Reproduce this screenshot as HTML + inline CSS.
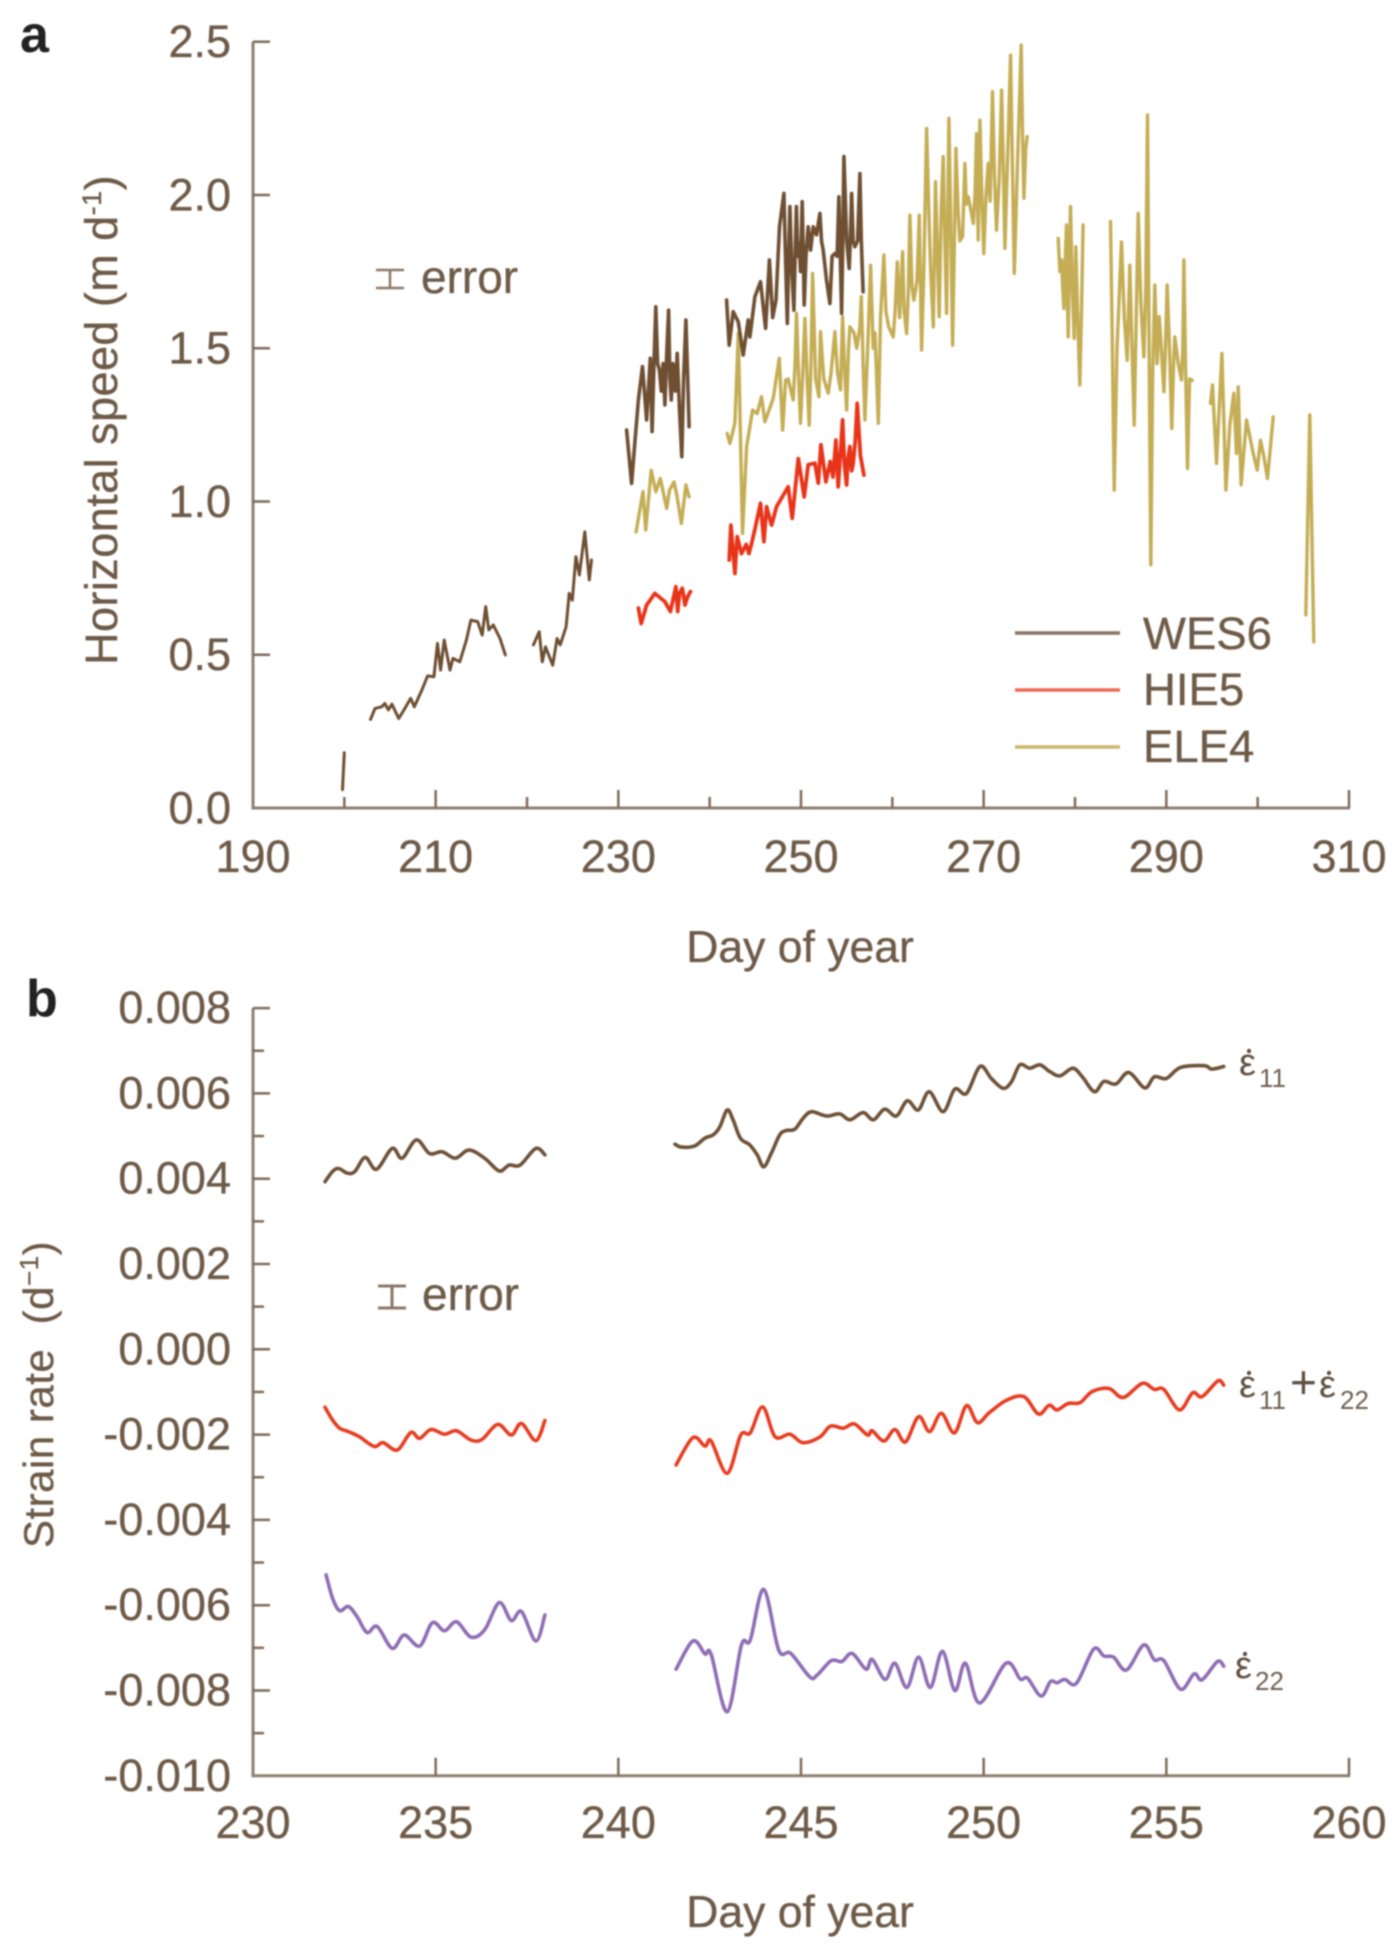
<!DOCTYPE html>
<html lang="en">
<head>
<meta charset="utf-8">
<title>Horizontal speed and strain rate by day of year</title>
<style>
  html,body{margin:0;padding:0;background:#fff;width:1400px;height:1944px;overflow:hidden}
  svg{display:block;filter:blur(.7px)}
  text{font-family:"Liberation Sans",sans-serif;fill:#6d5a47;stroke:#6d5a47;stroke-width:.35px}
  .tick-label{font-size:45px}
  .axis-title{font-size:44.5px}
  .legend-label{font-size:45.5px}
  .err-label{font-size:46px}
  .panel-letter{font-size:52px;font-weight:bold;fill:#222;stroke:none}
  .eps{font-size:38px;fill:#5f4f40;stroke:none}
  .sub{font-size:26px;fill:#6d5f50;stroke:none}
</style>
</head>
<body>
<svg id="chart" xmlns="http://www.w3.org/2000/svg" width="1400" height="1944" viewBox="0 0 1400 1944">
  <rect x="0" y="0" width="1400" height="1944" fill="#fff"/>

  <text class="panel-letter" x="20" y="52">a</text>
  <text class="panel-letter" x="26" y="1016">b</text>

  <g id="panelA"></g>
  <g id="panelB"></g>

  <text class="axis-title" x="800" y="962" text-anchor="middle">Day of year</text>
  <text class="axis-title" x="800" y="1927" text-anchor="middle">Day of year</text>
  <text transform="translate(117 665) rotate(-90)" style="font-size:45px;letter-spacing:.45px">Horizontal speed (m d<tspan dy="-16" style="font-size:27px">-1</tspan><tspan dy="16">)</tspan></text>
  <text transform="translate(53 1548) rotate(-90)" style="font-size:42px;letter-spacing:.5px" xml:space="preserve">Strain rate  (d<tspan dy="-15" style="font-size:26px">−1</tspan><tspan dy="15">)</tspan></text>

  <g stroke="#8a7866" stroke-width="2.5" fill="none">
    <path d="M376 270H404M376 288H404M390 270V288"/>
  </g>
  <text class="err-label" x="421" y="293">error</text>
  <g stroke="#8a7866" stroke-width="3" fill="none">
    <path d="M378 1286H406M378 1308H406M392 1286V1308"/>
  </g>
  <text class="err-label" x="422" y="1310">error</text>

  <g>
    <line x1="1015" x2="1120" y1="633" y2="633" stroke="#8a7565" stroke-width="3.5"/>
    <text class="legend-label" x="1143" y="649">WES6</text>
    <line x1="1015" x2="1120" y1="690" y2="690" stroke="#ee6a55" stroke-width="3.5"/>
    <text class="legend-label" x="1143" y="705">HIE5</text>
    <line x1="1015" x2="1120" y1="747" y2="747" stroke="#c9b86e" stroke-width="3.5"/>
    <text class="legend-label" x="1143" y="762">ELE4</text>
  </g>

  <g>
    <text class="eps" x="1239" y="1075">ε</text>
    <circle cx="1249" cy="1051" r="2.2" fill="#5f4f40"/>
    <text class="sub" x="1259" y="1087">11</text>
  </g>
  <g>
    <text class="eps" x="1239" y="1397">ε</text>
    <circle cx="1249" cy="1373" r="2.2" fill="#5f4f40"/>
    <text class="sub" x="1259" y="1409">11</text>
    <text class="eps" style="font-size:46px" x="1290" y="1398">+</text>
    <text class="eps" x="1319" y="1397">ε</text>
    <circle cx="1329" cy="1373" r="2.2" fill="#5f4f40"/>
    <text class="sub" x="1340" y="1409">22</text>
  </g>
  <g>
    <text class="eps" x="1235" y="1678">ε</text>
    <circle cx="1245" cy="1654" r="2.2" fill="#5f4f40"/>
    <text class="sub" x="1255" y="1690">22</text>
  </g>
</svg>

<script>
// ---------- Panel a: axis values ----------
const speedXMajor = [190,210,230,250,270,290,310];
const speedXMinor = [200,220,240,260,280,300];
const speedYTicks = [0,0.5,1,1.5,2,2.5];
const speedYLabels = ["0.0","0.5","1.0","1.5","2.0","2.5"];

// ---------- Panel a: WES6 ----------
const wes1Days = [199.8,200.0];
const wes1Speed = [0.06,0.18];
const wes2Days = [202.87,203.36,204.09,204.43,204.82,205.21,205.95,206.53,207.27,207.66,208.49,209.12,209.81,210.2,210.54,210.93,211.57,211.9,212.64,213.37,213.86,214.6,215.09,215.48,215.82,216.31,217.04,217.63];
const wes2Speed = [0.289,0.325,0.33,0.341,0.32,0.339,0.292,0.32,0.358,0.33,0.385,0.431,0.428,0.537,0.45,0.548,0.45,0.488,0.477,0.548,0.613,0.608,0.564,0.657,0.581,0.597,0.553,0.499];
const wes3Days = [220.7,221.34,221.68,222.03,222.81,223.3,223.64,224.28,224.62,224.96,225.35,225.74,226.33,226.82,227.06];
const wes3Speed = [0.532,0.575,0.477,0.526,0.466,0.553,0.532,0.591,0.7,0.678,0.82,0.76,0.901,0.744,0.809];
const wes4Days = [230.9,231.45,231.8,232.2,232.65,233.1,233.5,233.7,233.9,234.1,234.3,234.5,234.7,234.9,235.1,235.3,235.5,235.65,235.8,235.95,236.1,236.25,236.45,236.7,236.95,237.15,237.4,237.6,237.75];
const wes4Speed = [1.233,1.059,1.19,1.331,1.44,1.266,1.467,1.228,1.45,1.635,1.45,1.429,1.36,1.45,1.315,1.48,1.624,1.4,1.331,1.45,1.44,1.36,1.483,1.3,1.146,1.4,1.592,1.4,1.244];
const wes5Days = [241.85,242.14,242.58,243.13,243.67,244.22,244.4,244.95,245.57,246.12,246.54,246.9,247.26,247.65,248.13,248.3,248.5,248.65,248.78,249,249.22,249.35,249.5,249.65,249.8,249.95,250.13,250.25,250.35,250.55,250.79,251.05,251.34,251.7,252.07,252.25,252.43,252.8,253.16,253.4,253.71,253.95,254.15,254.3,254.44,254.58,254.7,255,255.28,255.4,255.54,255.7,255.9,256.2,256.45,256.6,256.8];
const wes5Speed = [1.657,1.51,1.619,1.586,1.478,1.592,1.537,1.668,1.717,1.565,1.788,1.6,1.657,1.896,2.005,1.8,1.581,1.8,1.962,1.75,1.624,1.8,1.962,1.8,1.842,1.75,1.978,1.8,1.641,1.8,1.896,1.82,1.896,1.87,1.94,1.85,1.82,1.72,1.646,1.8,1.809,1.8,1.994,1.8,1.614,1.85,2.125,1.85,1.76,1.85,2.005,1.85,1.831,1.85,2.07,1.85,1.684];

// ---------- Panel a: HIE5 ----------
const hie1Days = [232.2,232.5,233.1,234,235.1,235.7,236.3,236.5,236.7,237,237.3,237.6,237.9];
const hie1Speed = [0.652,0.602,0.662,0.7,0.673,0.641,0.722,0.641,0.7,0.717,0.662,0.69,0.706];
const hie2Days = [242.14,242.32,242.76,243.02,243.49,244,244.3,244.59,245.02,245.57,245.94,246.23,246.78,247.32,248.6,249.04,249.7,250.35,250.79,251.52,251.89,252.18,252.73,253.2,253.5,253.82,254.07,254.3,254.55,254.75,254.99,255.15,255.35,255.55,255.72,255.95,256.15,256.5,256.89];
const hie2Speed = [0.809,0.923,0.765,0.885,0.83,0.86,0.83,0.863,0.918,0.994,0.869,0.983,0.923,0.983,1.048,0.945,1.14,1.015,1.12,1.125,1.06,1.185,1.064,1.13,1.08,1.2,1.048,1.15,1.266,1.12,1.054,1.14,1.179,1.1,1.124,1.2,1.32,1.15,1.086];

// ---------- Panel a: ELE4 ----------
const ele1Days = [231.95,232.7,233,233.6,234.1,234.6,235.3,235.6,236.1,236.4,236.9,237.4,237.75];
const ele1Speed = [0.901,1.032,0.907,1.102,1.032,1.075,0.977,1.037,1.064,1.021,0.928,1.054,1.015];
const ele2Days = [241.92,242.21,242.76,243.13,243.6,244.04,244.7,245.2,245.68,246.05,246.96,247.62,247.98,248.31,248.6,248.9,249.15,249.35,249.51,249.75,249.95,250.2,250.43,250.7,250.9,251.1,251.27,251.6,251.96,252.14,252.5,252.98,253.3,253.71,254,254.33,254.55,254.75,254.99,255.2,255.35,255.8,256.1,256.45,256.6,256.8,257,257.3,257.62,257.9,258.1,258.46,258.7,259.08,259.3,259.6,260.1,260.3,260.54,260.8,261.12,261.3,261.56,261.75,261.92,262.15,262.36,262.7,262.95,263.2,263.45,263.75,264,264.2,264.48,264.73,264.95,265.13,265.35,265.57,265.75,265.94,266.19,266.4,266.6,266.8,266.96,267.2,267.4,267.69,267.95,268.1,268.31,268.6,268.86,269.05,269.22,269.4,269.59,269.8,270.02,270.25,270.5,270.7,270.97,271.2,271.41,271.7,271.96,272.15,272.33,272.6,272.95,273.15,273.35,273.7,274.11,274.25,274.4,274.6,274.77];
const ele2Speed = [1.222,1.189,1.255,1.548,0.896,1.179,1.298,1.287,1.342,1.26,1.336,1.467,1.233,1.396,1.4,1.36,1.331,1.45,1.614,1.4,1.255,1.42,1.597,1.38,1.249,1.45,1.744,1.4,1.342,1.554,1.4,1.353,1.42,1.554,1.42,1.364,1.603,1.45,1.298,1.5,1.57,1.55,1.5,1.57,1.668,1.45,1.266,1.5,1.771,1.5,1.55,1.255,1.6,1.804,1.62,1.57,1.537,1.62,1.782,1.6,1.815,1.62,1.548,1.68,1.934,1.7,1.657,1.72,1.934,1.494,1.75,2.217,1.94,1.75,1.57,2.043,1.8,1.603,1.95,2.125,1.85,1.614,2.25,1.9,1.51,1.85,2.152,1.95,1.85,1.864,2.103,1.97,1.994,1.95,1.907,2,2.2,1.853,2.244,2,1.809,2,2.103,1.98,2.337,2.05,1.885,2.05,2.342,2.1,1.826,2.1,2.456,2.1,1.744,2.1,2.489,2.2,1.989,2.15,2.19];
const ele3Days = [278.16,278.35,278.53,278.65,278.78,278.95,279.07,279.15,279.25,279.4,279.51,279.7,279.91,280,280.09,280.3,280.53,280.7,280.89];
const ele3Speed = [1.858,1.75,1.788,1.7,1.63,1.8,1.902,1.7,1.537,1.8,1.962,1.7,1.532,1.7,1.831,1.6,1.38,1.6,1.902];
const ele4Days = [283.89,284.1,284.29,284.6,285.09,285.4,285.71,285.85,286,286.2,286.48,286.7,286.92,287.2,287.54,287.75,287.94,288.1,288.3,288.5,288.74,288.99,289.22,289.45,289.73,289.9,290.09,290.35,290.6,290.8,290.93,291.3,291.66,291.8,291.92,292.1,292.32,292.55,292.83];
const ele4Speed = [1.913,1.5,1.037,1.5,1.847,1.6,1.461,1.6,1.771,1.55,1.249,1.6,1.94,1.65,1.472,1.7,2.261,1.55,0.793,1.4,1.706,1.45,1.603,1.5,1.358,1.5,1.706,1.5,1.238,1.45,1.537,1.45,1.396,1.5,1.788,1.45,1.108,1.4,1.395];
const ele5Days = [294.84,295.06,295.49,296.08,296.52,296.95,297.39,297.68,297.87,298.19,298.78,299.51,299.95,300.31,300.68,301.08,301.7];
const ele5Speed = [1.32,1.38,1.124,1.483,1.037,1.249,1.353,1.157,1.374,1.054,1.266,1.157,1.102,1.2,1.146,1.075,1.276];
const ele6Days = [305.27,305.71,306.15];
const ele6Speed = [0.63,1.282,0.542];

// ---------- Panel b: axis values ----------
const strainXTicks = [230,235,240,245,250,255,260];
const strainYMajor = [0.008,0.006,0.004,0.002,0,-0.002,-0.004,-0.006,-0.008,-0.01];
const strainYLabels = ["0.008","0.006","0.004","0.002","0.000","-0.002","-0.004","-0.006","-0.008","-0.010"];
const strainYMinor = [0.007,0.005,0.003,0.001,-0.001,-0.003,-0.005,-0.007,-0.009];

// ---------- Panel b: strain series (units of 0.001 per day) ----------
const e11aDays = [231.97,232.18,232.34,232.59,232.79,233.07,233.38,233.81,234.08,234.47,234.83,235.18,235.54,235.91,236.34,236.74,237.01,237.31,237.74,237.99];
const e11aRate = [3.93,4.17,4.24,4.13,4.17,4.5,4.22,4.71,4.48,4.91,4.59,4.63,4.48,4.67,4.48,4.18,4.32,4.32,4.71,4.56];
const e11bDays = [241.55,241.73,242.09,242.37,242.6,242.78,242.98,243.14,243.34,243.6,243.8,243.98,244.19,244.42,244.6,244.83,245.06,245.29,245.7,246.06,246.34,246.7,246.98,247.29,247.61,247.91,248.21,248.51,248.89,249.21,249.53,249.9,250.21,250.53,250.76,250.99,251.26,251.54,251.81,252.09,252.44,252.7,253.03,253.29,253.62,253.97,254.41,254.67,255,255.39,256.04,256.24,256.57];
const e11bRate = [4.81,4.74,4.77,4.95,5.03,5.22,5.61,5.38,4.95,4.79,4.56,4.28,4.6,5.03,5.13,5.16,5.42,5.57,5.47,5.52,5.38,5.55,5.38,5.63,5.47,5.83,5.61,6.04,5.57,6.1,6,6.63,6.35,6.12,6.27,6.67,6.59,6.67,6.51,6.41,6.59,6.39,6.04,6.28,6.22,6.49,6.13,6.39,6.35,6.61,6.65,6.57,6.63];
const sumaDays = [231.97,232.18,232.37,232.61,232.91,233.32,233.56,233.95,234.32,234.56,234.87,235.24,235.57,235.97,236.27,236.7,237.07,237.35,237.74,237.99];
const sumaRate = [-1.36,-1.66,-1.85,-1.93,-2.05,-2.28,-2.19,-2.36,-1.95,-2.09,-1.88,-1.99,-1.91,-2.13,-2.11,-1.76,-2.01,-1.74,-2.14,-1.67];
const sumbDays = [241.58,242.04,242.37,242.54,242.98,243.35,243.61,243.95,244.29,244.7,245.05,245.51,245.81,246.16,246.46,246.82,246.95,247.27,247.57,247.86,248.22,248.52,248.84,249.2,249.53,249.83,250.15,250.61,251.1,251.5,251.79,252.01,252.31,252.64,252.97,253.43,253.82,254.34,254.67,254.93,255.36,255.72,255.98,256.41,256.57];
const sumbRate = [-2.71,-2.07,-2.27,-2.15,-2.91,-2.01,-1.96,-1.35,-2.05,-1.99,-2.19,-2.06,-1.8,-1.85,-1.75,-2.01,-1.91,-2.15,-1.88,-2.17,-1.58,-1.93,-1.5,-1.96,-1.32,-1.72,-1.49,-1.2,-1.11,-1.52,-1.31,-1.42,-1.27,-1.25,-0.99,-0.92,-1.13,-0.8,-0.94,-0.94,-1.42,-1.02,-1.11,-0.74,-0.84];
const e22aDays = [232,232.18,232.37,232.61,232.85,233.12,233.4,233.81,234.14,234.56,234.91,235.24,235.57,235.97,236.34,236.74,237.07,237.35,237.74,237.99];
const e22aRate = [-5.29,-5.84,-6.13,-6.03,-6.27,-6.64,-6.5,-7.01,-6.7,-6.96,-6.41,-6.6,-6.39,-6.75,-6.58,-5.94,-6.36,-6.15,-6.84,-6.23];
const e22bDays = [241.58,242.04,242.37,242.54,242.98,243.37,243.61,243.98,244.39,244.72,245.24,245.44,245.83,246.12,246.4,246.78,246.95,247.3,247.57,247.9,248.22,248.54,248.87,249.21,249.5,249.89,250.61,251,251.2,251.57,251.83,252.01,252.22,252.54,253.01,253.29,253.56,253.91,254.38,254.67,254.93,255.39,255.76,255.98,256.4,256.57];
const e22bRate = [-7.5,-6.84,-7.14,-7.15,-8.5,-6.93,-6.82,-5.63,-7.05,-7.13,-7.68,-7.64,-7.3,-7.32,-7.13,-7.5,-7.27,-7.74,-7.36,-7.93,-7.22,-7.93,-7.08,-8,-7.36,-8.29,-7.36,-7.73,-7.71,-8.13,-7.79,-7.82,-7.74,-7.83,-7.03,-7.19,-7.22,-7.52,-6.93,-7.28,-7.3,-7.97,-7.61,-7.75,-7.32,-7.43];

// ---------- Axis functions ----------
const NS = 'http://www.w3.org/2000/svg';
const AXIS_COLOR = '#8f7f70';
const TICK_COLOR = '#7d6b59';
function xSpeed(d){ return 253 + (d - 190) * (1349 - 253) / 120; }
function ySpeed(v){ return 808 - v * (808 - 41.7) / 2.5; }
function xStrain(d){ return 253 + (d - 230) * (1349 - 253) / 30; }
function yStrain(v){ return 1349.3 - v * 42650; }

function make(tag, parent){
  const el = document.createElementNS(NS, tag);
  parent.appendChild(el);
  return el;
}
function drawLine(parent, x1, y1, x2, y2, color, width){
  const el = make('line', parent);
  el.setAttribute('x1', x1);
  el.setAttribute('y1', y1);
  el.setAttribute('x2', x2);
  el.setAttribute('y2', y2);
  el.setAttribute('stroke', color);
  el.setAttribute('stroke-width', width);
  return el;
}
function drawLabel(parent, x, y, anchor, str){
  const el = make('text', parent);
  el.setAttribute('class', 'tick-label');
  el.setAttribute('x', x);
  el.setAttribute('y', y);
  el.setAttribute('text-anchor', anchor);
  el.textContent = str;
  return el;
}
function straightPath(days, vals, fx, fy){
  return days.map(function(d, i){
    return (i ? 'L' : 'M') + fx(d).toFixed(1) + ' ' + fy(vals[i]).toFixed(1);
  }).join('');
}
function smoothPath(days, vals, fx, fy){
  const p = days.map(function(d, i){ return [fx(d), fy(vals[i])]; });
  let s = 'M' + p[0][0].toFixed(1) + ' ' + p[0][1].toFixed(1);
  for (let i = 0; i < p.length - 1; i++) {
    const a = p[Math.max(i - 1, 0)], b = p[i], c = p[i + 1], e = p[Math.min(i + 2, p.length - 1)];
    const c1x = b[0] + (c[0] - a[0]) / 6, c1y = b[1] + (c[1] - a[1]) / 6;
    const c2x = c[0] - (e[0] - b[0]) / 6, c2y = c[1] - (e[1] - b[1]) / 6;
    s += 'C' + c1x.toFixed(1) + ' ' + c1y.toFixed(1) + ' ' + c2x.toFixed(1) + ' ' + c2y.toFixed(1) + ' ' + c[0].toFixed(1) + ' ' + c[1].toFixed(1);
  }
  return s;
}
function drawSeries(parent, d, color, width){
  const el = make('path', parent);
  el.setAttribute('d', d);
  el.setAttribute('fill', 'none');
  el.setAttribute('stroke', color);
  el.setAttribute('stroke-width', width);
  el.setAttribute('stroke-linejoin', 'round');
  el.setAttribute('stroke-linecap', 'round');
  return el;
}

// ---------- Panel a ----------
const panelA = document.getElementById('panelA');

const aYAxis = drawLine(panelA, xSpeed(190), ySpeed(2.5), xSpeed(190), ySpeed(0), AXIS_COLOR, 3);


const aXAxis = drawLine(panelA, xSpeed(190) - 1.5, ySpeed(0), xSpeed(310) + 1, ySpeed(0), AXIS_COLOR, 3);



speedYTicks.forEach(function(v, i){
  if (v !== 0) {
    const t = drawLine(panelA, xSpeed(190), ySpeed(v), xSpeed(190) + 17, ySpeed(v), TICK_COLOR, 2.5);
    
    
  }
  const l = drawLabel(panelA, 231, ySpeed(v) + 15.5, 'end', speedYLabels[i]);
  
  
});
speedXMajor.forEach(function(d){
  if (d !== 190) {
    const t = drawLine(panelA, xSpeed(d), ySpeed(0), xSpeed(d), ySpeed(0) - 18, TICK_COLOR, 2.5);
    
    
  }
  const l = drawLabel(panelA, xSpeed(d), 872, 'middle', String(d));
  
  
});
speedXMinor.forEach(function(d){
  const t = drawLine(panelA, xSpeed(d), ySpeed(0), xSpeed(d), ySpeed(0) - 11, TICK_COLOR, 2.5);
  
  
});

const ELE_COLOR = '#c4ad55';
const HIE_COLOR = '#e8351a';
const WES_COLOR = '#6e4f32';

[[ele1Days,ele1Speed],[ele2Days,ele2Speed],[ele3Days,ele3Speed],[ele4Days,ele4Speed],[ele5Days,ele5Speed],[ele6Days,ele6Speed]].forEach(function(seg){
  const p = drawSeries(panelA, straightPath(seg[0], seg[1], xSpeed, ySpeed), ELE_COLOR, 3.4);
  
  
});
[[hie1Days,hie1Speed],[hie2Days,hie2Speed]].forEach(function(seg){
  const p = drawSeries(panelA, straightPath(seg[0], seg[1], xSpeed, ySpeed), HIE_COLOR, 3.8);
  
  
});
[[wes1Days,wes1Speed,3],[wes2Days,wes2Speed,3],[wes3Days,wes3Speed,3],[wes4Days,wes4Speed,3.6],[wes5Days,wes5Speed,3.6]].forEach(function(seg){
  const p = drawSeries(panelA, straightPath(seg[0], seg[1], xSpeed, ySpeed), WES_COLOR, seg[2]);
  
  
});

// ---------- Panel b ----------
const panelB = document.getElementById('panelB');

const bYAxis = drawLine(panelB, xStrain(230), yStrain(0.008), xStrain(230), yStrain(-0.01), AXIS_COLOR, 3);


const bXAxis = drawLine(panelB, xStrain(230) - 1.5, yStrain(-0.01), xStrain(260) + 1, yStrain(-0.01), AXIS_COLOR, 3);



strainYMajor.forEach(function(v, i){
  if (v !== -0.01) {
    const t = drawLine(panelB, xStrain(230), yStrain(v), xStrain(230) + 17, yStrain(v), TICK_COLOR, 2.5);
    
    
  }
  const l = drawLabel(panelB, 231, yStrain(v) + 15, 'end', strainYLabels[i]);
  
  
});
strainYMinor.forEach(function(v){
  const t = drawLine(panelB, xStrain(230), yStrain(v), xStrain(230) + 11, yStrain(v), TICK_COLOR, 2.5);
  
  
});
strainXTicks.forEach(function(d){
  if (d !== 230) {
    const t = drawLine(panelB, xStrain(d), yStrain(-0.01), xStrain(d), yStrain(-0.01) - 18, TICK_COLOR, 2.5);
    
    
  }
  const l = drawLabel(panelB, xStrain(d), 1838, 'middle', String(d));
  
  
});

function yStrainMilli(v){ return yStrain(v / 1000); }

[[e11aDays,e11aRate],[e11bDays,e11bRate]].forEach(function(seg){
  const p = drawSeries(panelB, smoothPath(seg[0], seg[1], xStrain, yStrainMilli), '#6e5238', 3.6);
  
  
});
[[sumaDays,sumaRate],[sumbDays,sumbRate]].forEach(function(seg){
  const p = drawSeries(panelB, smoothPath(seg[0], seg[1], xStrain, yStrainMilli), '#e63d22', 3.6);
  
  
});
[[e22aDays,e22aRate],[e22bDays,e22bRate]].forEach(function(seg){
  const p = drawSeries(panelB, smoothPath(seg[0], seg[1], xStrain, yStrainMilli), '#8f6eb4', 3.6);
  
  
});
</script>
</body>
</html>
